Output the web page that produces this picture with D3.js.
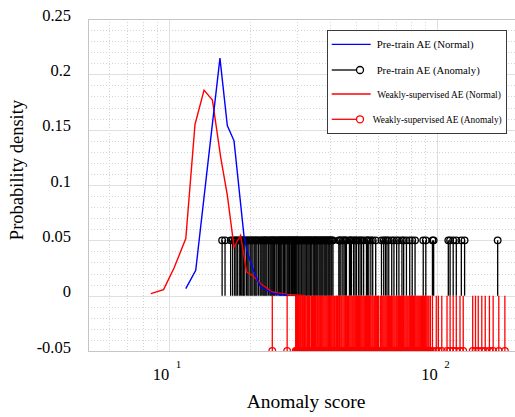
<!DOCTYPE html>
<html lang="en">
<head>
    <meta charset="UTF-8">
    <title>Anomaly score density</title>
    <script src="https://d3js.org/d3.v7.min.js"></script>
    <style>
        body { margin: 0; padding: 0; background: #fff; }
        text { font-family: "Liberation Serif", "Times New Roman", serif; fill: #000; }
    </style>
</head>
<body>
<div id="main"></div>
<script>
    // normal-sample densities (curves)
    var pretrainNormalScore = [11.57, 12.6, 13.96, 15.51, 16.52, 17.5, 19.05, 19.6, 20.76, 21.98, 24.6, 27.6];
    var pretrainNormalDensity = [0.0064, 0.023, 0.118, 0.2146, 0.1538, 0.1399, 0.0545, 0.0395, 0.0214, 0.0078, 0.0019, 0.0004];

    var weaklyNormalScore = [8.57, 9.56, 10.46, 11.57, 12.52, 13.53, 14.54, 15.61, 16.52, 17.5, 18.52, 19.5, 20.47, 21.98, 24.29, 27.6, 31.8];
    var weaklyNormalDensity = [0.0019, 0.0055, 0.025, 0.0516, 0.1547, 0.1857, 0.1767, 0.125, 0.0908, 0.044, 0.0546, 0.0214, 0.0184, 0.011, 0.0033, 0.001, 0.0003];

    // anomaly scores (stems)
    var pretrainAnomaly = [15.8, 16.2,
        17.0, 17.3, 17.6, 17.8, 18.0, 18.3, 18.5, 18.7, 18.9, 19.0, 19.2, 19.5, 19.7, 19.9, 20.2, 20.4,
        20.6, 20.9, 21.1, 21.3, 21.6, 21.9, 22.1, 22.4, 22.6, 22.8, 23.0, 23.2, 23.5, 23.8, 24.0, 24.2,
        24.4, 24.6, 24.8, 25.1, 25.3, 25.6, 25.9, 26.0, 26.2, 26.4, 26.7, 26.9, 27.0, 27.3, 27.6, 27.8,
        28.0, 28.2, 28.5, 28.7, 28.9, 29.1, 29.4, 29.6, 29.8, 30.0, 30.3, 30.5, 30.8, 31.1, 31.3, 31.6,
        31.9, 32.2, 32.5, 32.7, 33.0, 33.3, 33.6, 33.8, 34.1, 34.5, 34.8, 35.0, 35.3, 35.6, 35.9, 36.3,
        36.6, 36.9, 37.2, 37.5, 37.9, 38.2, 38.5, 38.8, 39.2, 39.5, 39.8, 40.2, 40.5, 40.9,
        43.0, 43.4, 43.8, 44.5, 45.0, 45.5, 45.9, 47.1, 47.5, 47.9, 48.8, 49.4, 50.0, 50.9, 51.6, 52.3,
        53.2, 54.5, 55.0, 55.6, 56.6, 57.5, 59.0, 62.0, 63.2, 64.2, 65.0, 66.0, 67.7, 69.0, 70.6, 72.0,
        73.9, 75.0, 76.8, 79.0, 80.7, 82.7, 88.7, 90.7, 96.0, 97.0,
        110.0, 111.7, 114.7, 117.8, 123.0, 126.5, 168.0];

    var weaklyAnomaly = [24.3, 27.6,
        29.7, 29.9, 30.2, 30.4, 30.6, 30.8, 31.0, 31.3, 31.5, 31.7, 32.0, 32.2, 32.4, 32.7, 32.9, 33.1,
        33.4, 33.6, 34.0, 34.3, 34.6, 34.9, 35.2, 35.4, 35.7, 35.9, 36.2, 36.5, 36.8, 37.0, 37.3, 37.6,
        37.9, 38.2, 38.5, 38.8, 39.1, 39.4, 39.7, 40.0, 40.3, 40.6, 40.9, 41.2, 41.5, 41.9, 42.2, 42.5,
        42.8, 43.2, 43.5, 43.9, 44.2, 44.6, 45.0, 45.3, 45.6, 46.0, 46.3, 46.7, 47.0, 47.4, 47.8, 48.2,
        48.5, 48.9, 49.3, 49.7, 50.1, 50.5, 50.9, 51.3, 51.7, 52.1, 52.5, 52.9, 53.3, 53.7, 54.1, 54.6,
        55.0, 55.5, 55.9, 56.3, 56.7, 57.2, 57.6, 58.1, 58.5, 59.0, 59.5, 60.0, 60.5, 61.4, 61.9, 62.4,
        62.9, 63.4, 63.9, 64.4, 64.9, 65.4, 65.9, 66.4, 67.0, 67.5, 68.0, 68.5, 69.1, 69.6, 70.2, 70.7,
        71.3, 71.8, 72.4, 73.0, 73.6, 74.2, 74.8, 75.3, 75.9, 76.5, 77.1, 77.7, 78.4, 79.0, 79.6, 80.2,
        80.9, 81.5, 82.2, 82.8, 83.5, 84.2, 84.8, 85.4, 86.1, 86.8, 87.5, 88.2, 88.9, 89.6, 90.3, 91.0,
        91.7, 92.5, 93.2, 94.3,
        96.0, 99.2, 101.0, 104.0, 108.8, 111.7, 114.7, 117.8, 121.6, 125.0, 135.6, 138.9, 142.2, 146.6,
        151.0, 156.5, 161.6, 169.6, 178.7];

    var yTicks = [-0.05, 0, 0.05, 0.1, 0.15, 0.2, 0.25];
    var xMajor = [10, 100];
    var xMinor = [6, 7, 8, 9, 20, 30, 40, 50, 60, 70, 80, 90, 200];

    var legendNames = ['Pre-train AE (Normal)', 'Pre-train AE (Anomaly)',
        'Weakly-supervised AE (Normal)', 'Weakly-supervised AE (Anomaly)'];

    var width = 515, height = 417;
    var pLeft = 88, pRight = 518, pTop = 19, pBottom = 351;

    var svg = d3.select('#main').append('svg')
        .attr('width', width)
        .attr('height', height);

    var x = d3.scaleLog().domain([5, 200]).range([pLeft, pRight]);
    var y = d3.scaleLinear().domain([-0.05, 0.25]).range([pBottom, pTop]);

    svg.append('clipPath').attr('id', 'clip')
        .append('rect')
        .attr('x', pLeft).attr('y', pTop)
        .attr('width', pRight - pLeft).attr('height', pBottom - pTop);

    // grid
    var grid = svg.append('g');
    var yMinor = d3.range(-5, 26).map(function(d) { return d / 100; })
        .filter(function(d) { return Math.round(d * 100) % 5 != 0; });

    grid.selectAll('.ymin').data(yMinor).enter().append('line')
        .attr('x1', pLeft).attr('x2', pRight)
        .attr('y1', function(d) { return Math.round(y(d)) + 0.5; })
        .attr('y2', function(d) { return Math.round(y(d)) + 0.5; })
        .attr('stroke', '#d4d4d4').attr('stroke-dasharray', '1,2');

    grid.selectAll('.xmin').data(xMinor).enter().append('line')
        .attr('y1', pTop).attr('y2', pBottom)
        .attr('x1', function(d) { return Math.round(x(d)) + 0.5; })
        .attr('x2', function(d) { return Math.round(x(d)) + 0.5; })
        .attr('stroke', '#d4d4d4').attr('stroke-dasharray', '1,2');

    grid.selectAll('.ymaj').data(yTicks).enter().append('line')
        .attr('x1', pLeft).attr('x2', pRight)
        .attr('y1', function(d) { return Math.round(y(d)) + 0.5; })
        .attr('y2', function(d) { return Math.round(y(d)) + 0.5; })
        .attr('stroke', '#e0e0e0');

    grid.selectAll('.xmaj').data(xMajor).enter().append('line')
        .attr('y1', pTop).attr('y2', pBottom)
        .attr('x1', function(d) { return Math.round(x(d)) + 0.5; })
        .attr('x2', function(d) { return Math.round(x(d)) + 0.5; })
        .attr('stroke', '#e0e0e0');

    // axes box (light)
    svg.append('path')
        .attr('d', 'M' + pRight + ',' + (pTop + 0.5) + 'H' + (pLeft + 0.5) + 'V' + (pBottom + 0.5) + 'H' + pRight)
        .attr('fill', 'none').attr('stroke', '#c4c4c4');

    var plot = svg.append('g').attr('clip-path', 'url(#clip)');

    function stems(data, tip, color) {
        var g = plot.append('g');
        g.selectAll('line').data(data).enter().append('line')
            .attr('x1', function(d) { return x(d); })
            .attr('x2', function(d) { return x(d); })
            .attr('y1', y(0))
            .attr('y2', y(tip))
            .attr('stroke', color).attr('stroke-width', 1.3);
        g.selectAll('circle').data(data).enter().append('circle')
            .attr('cx', function(d) { return x(d); })
            .attr('cy', y(tip))
            .attr('r', 3.3)
            .attr('fill', 'none')
            .attr('stroke', color).attr('stroke-width', 1.3);
    }

    stems(pretrainAnomaly, 0.05, '#000000');
    stems(weaklyAnomaly, -0.05, '#ff0000');

    var line = d3.line()
        .x(function(d) { return x(d[0]); })
        .y(function(d) { return y(d[1]); });

    plot.append('path')
        .datum(d3.zip(weaklyNormalScore, weaklyNormalDensity))
        .attr('d', line)
        .attr('fill', 'none').attr('stroke', '#ff0000').attr('stroke-width', 1.4);

    plot.append('path')
        .datum(d3.zip(pretrainNormalScore, pretrainNormalDensity))
        .attr('d', line)
        .attr('fill', 'none').attr('stroke', '#0000ff').attr('stroke-width', 1.4);

    // tick labels
    svg.selectAll('.ylab').data(yTicks).enter().append('text')
        .attr('x', 71)
        .attr('y', function(d) { return y(d) - 2; })
        .attr('text-anchor', 'end')
        .attr('dominant-baseline', 'middle')
        .style('font-size', '16.5px')
        .text(function(d) { return d == 0 ? '0' : String(d); });

    xMajor.forEach(function(v, i) {
        svg.append('text')
            .attr('x', x(v) + 0.5).attr('y', 380)
            .attr('text-anchor', 'end')
            .style('font-size', '16.5px')
            .text('10');
        svg.append('text')
            .attr('x', x(v) + 7).attr('y', 368)
            .style('font-size', '11px')
            .text(String(i + 1));
    });

    svg.append('text')
        .attr('x', 306).attr('y', 408)
        .attr('text-anchor', 'middle')
        .style('font-size', '19.5px')
        .text('Anomaly score');

    svg.append('text')
        .attr('transform', 'translate(23,170) rotate(-90)')
        .attr('text-anchor', 'middle')
        .style('font-size', '18.5px')
        .text('Probability density');

    // legend
    var lg = svg.append('g');
    lg.append('rect')
        .attr('x', 327.5).attr('y', 30.5).attr('width', 179).attr('height', 103)
        .attr('fill', '#fff').attr('stroke', '#3a3a3a').attr('stroke-width', 1);

    var legendY = [44.3, 70, 94, 119.3];
    var legendColor = ['#0000ff', '#000000', '#ff0000', '#ff0000'];
    var legendMarker = [false, true, false, true];
    var legendTextX = [376.7, 376.7, 377.3, 372.7];
    var legendTextW = [97, 103, 123.5, 129];

    legendNames.forEach(function(name, i) {
        var yy = legendY[i];
        if (legendMarker[i]) {
            lg.append('line').attr('x1', 331.7).attr('x2', 356.5).attr('y1', yy).attr('y2', yy)
                .attr('stroke', legendColor[i]).attr('stroke-width', 1.3);
            lg.append('circle').attr('cx', 360).attr('cy', yy).attr('r', 3.5)
                .attr('fill', 'none').attr('stroke', legendColor[i]).attr('stroke-width', 1.3);
        } else {
            lg.append('line').attr('x1', 331.7).attr('x2', 370.7).attr('y1', yy).attr('y2', yy)
                .attr('stroke', legendColor[i]).attr('stroke-width', 1.3);
        }
        lg.append('text')
            .attr('x', legendTextX[i]).attr('y', yy + 3.5)
            .attr('textLength', legendTextW[i])
            .attr('lengthAdjust', 'spacingAndGlyphs')
            .style('font-size', '10.5px')
            .text(name);
    });
</script>
</body>
</html>
